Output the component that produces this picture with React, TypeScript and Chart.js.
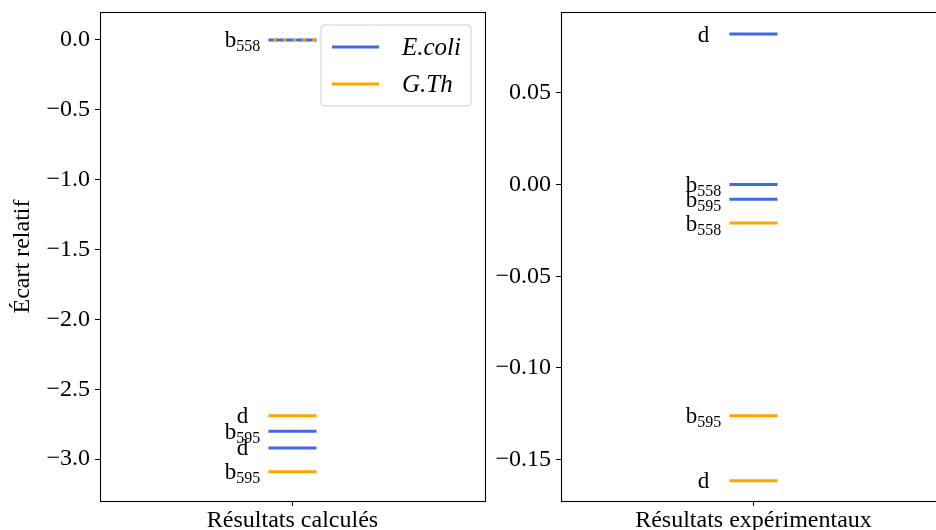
import React, { useEffect, useRef } from "react";
import { Chart, registerables } from "chart.js";
Chart.register(...registerables);

const FONT = "'Liberation Serif', 'DejaVu Serif', serif";
const FS = 24;
const LABEL_FS = 23;
const SUB_FS = 16;

const seriesNames = ["E.coli", "G.Th"];
const seriesColors = ["#4169E1", "#FFA500"];
const levelNames = ["b558", "b595", "d"];

const calcCategory = "Résultats calculés";
const calcEcoli = [0.0, -2.8, -2.92];
const calcGTh = [0.0, -3.09, -2.69];
const calcTicks = [0.0, -0.5, -1.0, -1.5, -2.0, -2.5, -3.0];
const calcRange = [-3.3, 0.2];
const calcDecimals = 1;

const expCategory = "Résultats expérimentaux";
const expEcoli = [0.0, -0.008, 0.082];
const expGTh = [-0.021, -0.126, -0.1615];
const expTicks = [0.05, 0.0, -0.05, -0.1, -0.15];
const expRange = [-0.1725, 0.094];
const expDecimals = 2;

const yTitle = "Écart relatif";

const HALF = 0.0625;
const LABEL_X = -0.13;

function fmt(v: number, d: number) {
  const s = Math.abs(v).toFixed(d);
  return v < -1e-12 ? "\u2212" + s : s;
}

function buildData(values: number[]) {
  const out: any[] = [];
  values.forEach((v, i) => {
    out.push({ x: -HALF, y: v });
    out.push({ x: HALF, y: v });
    if (i < values.length - 1) out.push({ x: 0, y: null });
  });
  return out;
}

function makeChart(canvas: HTMLCanvasElement, panel: any) {
  const { category, series, ticks, range, decimals, showTitle, showLegend } = panel;

  const framePlugin = {
    id: "frame",
    afterDatasetsDraw(chart: any) {
      const { ctx, chartArea: a } = chart;
      ctx.save();
      ctx.strokeStyle = "#000";
      ctx.lineWidth = 1.1;
      ctx.strokeRect(a.left + 0.5, a.top + 0.5, a.right - a.left, a.bottom - a.top);
      ctx.restore();
    },
  };

  const labelPlugin = {
    id: "levelLabels",
    afterDatasetsDraw(chart: any) {
      const { ctx } = chart;
      const xs = chart.scales.x;
      const ys = chart.scales.y;
      const drawn: string[] = [];
      ctx.save();
      ctx.fillStyle = "#000";
      series.forEach((vals: number[]) => {
        vals.forEach((v, j) => {
          const name = levelNames[j];
          const py = ys.getPixelForValue(v);
          const key = name + "@" + Math.round(py);
          if (drawn.includes(key)) return;
          drawn.push(key);
          const m = name.match(/^([a-zA-Z]+)(\d*)$/);
          const main = m ? m[1] : name;
          const sub = m ? m[2] : "";
          ctx.font = `${LABEL_FS}px ${FONT}`;
          const wm = ctx.measureText(main).width;
          ctx.font = `${SUB_FS}px ${FONT}`;
          const ws = sub ? ctx.measureText(sub).width : 0;
          const cx = xs.getPixelForValue(LABEL_X);
          const x0 = cx - (wm + ws) / 2;
          const base = py + 7.5;
          ctx.textBaseline = "alphabetic";
          ctx.textAlign = "left";
          ctx.font = `${LABEL_FS}px ${FONT}`;
          ctx.fillText(main, x0, base);
          if (sub) {
            ctx.font = `${SUB_FS}px ${FONT}`;
            ctx.fillText(sub, x0 + wm, base + 4);
          }
        });
      });
      ctx.restore();
    },
  };

  const legendPlugin = {
    id: "customLegend",
    afterDraw(chart: any) {
      if (!showLegend) return;
      const { ctx, chartArea: a } = chart;
      const w = 150, h = 81;
      const left = a.right - 14 - w;
      const top = a.top + 13;
      ctx.save();
      ctx.beginPath();
      const r = 4;
      ctx.moveTo(left + r, top);
      ctx.lineTo(left + w - r, top);
      ctx.quadraticCurveTo(left + w, top, left + w, top + r);
      ctx.lineTo(left + w, top + h - r);
      ctx.quadraticCurveTo(left + w, top + h, left + w - r, top + h);
      ctx.lineTo(left + r, top + h);
      ctx.quadraticCurveTo(left, top + h, left, top + h - r);
      ctx.lineTo(left, top + r);
      ctx.quadraticCurveTo(left, top, left + r, top);
      ctx.closePath();
      ctx.fillStyle = "rgba(255,255,255,0.8)";
      ctx.fill();
      ctx.strokeStyle = "#d0d0d0";
      ctx.lineWidth = 1;
      ctx.stroke();
      seriesNames.forEach((n, i) => {
        const y = top + 22 + i * 37;
        ctx.beginPath();
        ctx.strokeStyle = seriesColors[i];
        ctx.lineWidth = 3;
        ctx.moveTo(left + 11, y);
        ctx.lineTo(left + 58, y);
        ctx.stroke();
        ctx.fillStyle = "#000";
        ctx.font = `italic ${FS + 1}px ${FONT}`;
        ctx.textBaseline = "middle";
        ctx.textAlign = "left";
        ctx.fillText(n, left + 81, y + 1);
      });
      ctx.restore();
    },
  };

  const overlaps = (v: number) => {
    const a = series[0] as number[];
    return a.some((u) => Math.abs(u - v) < 1e-9);
  };

  const datasets = series.map((vals: number[], i: number) => ({
    label: seriesNames[i],
    data: buildData(vals),
    borderColor: seriesColors[i],
    backgroundColor: seriesColors[i],
    borderWidth: 3,
    pointRadius: 0,
    pointHoverRadius: 0,
    spanGaps: false,
    order: i === 0 ? 1 : 0,
    segment:
      i === 1
        ? {
            borderDash: (ctx: any) => (overlaps(ctx.p0.parsed.y) ? [3.3, 6.4] : []),
            borderDashOffset: (ctx: any) => (overlaps(ctx.p0.parsed.y) ? 4.7 : 0),
          }
        : undefined,
  }));

  return new Chart(canvas, {
    type: "line",
    data: { datasets },
    plugins: [framePlugin, labelPlugin, legendPlugin],
    options: {
      responsive: false,
      animation: false,
      devicePixelRatio: 1,
      layout: { padding: { top: 12, right: 5, left: 0, bottom: 0 } },
      plugins: { legend: { display: false }, tooltip: { enabled: false } },
      scales: {
        x: {
          type: "linear",
          min: -0.5,
          max: 0.5,
          afterBuildTicks: (s: any) => {
            s.ticks = [{ value: 0 }];
          },
          afterFit: (s: any) => {
            s.height = 29;
            s.paddingLeft = 0;
            s.paddingRight = 0;
          },
          ticks: {
            callback: () => category,
            font: { family: FONT, size: FS },
            color: "#000",
            padding: 0,
            maxRotation: 0,
            autoSkip: false,
          },
          grid: { drawOnChartArea: false, drawTicks: true, tickLength: 5, color: "#000" },
          border: { display: false },
        },
        y: {
          type: "linear",
          min: range[0],
          max: range[1],
          afterBuildTicks: (s: any) => {
            s.ticks = ticks.map((v: number) => ({ value: v }));
          },
          afterFit: (s: any) => {
            s.width = 100;
            s.paddingTop = 0;
            s.paddingBottom = 0;
          },
          ticks: {
            callback: (v: any) => fmt(Number(v), decimals),
            font: { family: FONT, size: FS },
            color: "#000",
            padding: 5,
            autoSkip: false,
          },
          grid: { drawOnChartArea: false, drawTicks: true, tickLength: 5, color: "#000" },
          border: { display: false },
          title: {
            display: showTitle,
            text: yTitle,
            font: { family: FONT, size: FS },
            color: "#000",
            padding: { top: 8, bottom: 0 },
          },
        },
      },
    } as any,
  });
}

export default function App() {
  const leftRef = useRef<HTMLCanvasElement>(null);
  const rightRef = useRef<HTMLCanvasElement>(null);

  useEffect(() => {
    const c1 = makeChart(leftRef.current!, {
      category: calcCategory,
      series: [calcEcoli, calcGTh],
      ticks: calcTicks,
      range: calcRange,
      decimals: calcDecimals,
      showTitle: true,
      showLegend: true,
    });
    const c2 = makeChart(rightRef.current!, {
      category: expCategory,
      series: [expEcoli, expGTh],
      ticks: expTicks,
      range: expRange,
      decimals: expDecimals,
      showTitle: false,
      showLegend: false,
    });
    return () => {
      c1.destroy();
      c2.destroy();
    };
  }, []);

  return (
    <div
      style={{
        position: "fixed",
        left: 0,
        top: 0,
        width: 936,
        height: 530,
        overflow: "hidden",
        background: "#fff",
      }}
    >
      <div style={{ position: "absolute", left: 0, top: 0, width: 490, height: 530 }}>
        <canvas ref={leftRef} width={490} height={530} style={{ width: 490, height: 530 }} />
      </div>
      <div style={{ position: "absolute", left: 461, top: 0, width: 490, height: 530 }}>
        <canvas ref={rightRef} width={490} height={530} style={{ width: 490, height: 530 }} />
      </div>
    </div>
  );
}
